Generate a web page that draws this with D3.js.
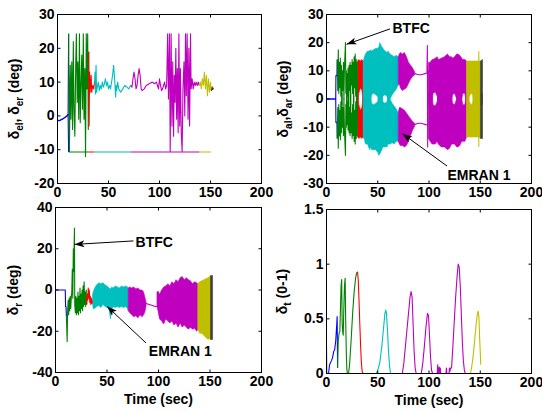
<!DOCTYPE html>
<html>
<head>
<meta charset="utf-8">
<script src="https://cdn.jsdelivr.net/npm/d3@7"></script>
<style>
html, body { margin: 0; padding: 0; background: #fff; }
svg { display: block; }
text { font-family: "Liberation Sans", Arial, Helvetica, sans-serif; font-weight: bold; }
</style>
</head>
<body>
<svg id="chart" width="542" height="412"></svg>
<script>
// ---- tick values -------------------------------------------------------
const timeTicks = [0, 50, 100, 150, 200];
const elevTicks = [-20, -10, 0, 10, 20, 30];
const ailTicks = [-30, -20, -10, 0, 10, 20, 30];
const rudTicks = [-40, -20, 0, 20, 40];
const thrTicks = [0, 0.5, 1, 1.5];

// ---- flight phases: start times (sec) and trace colours -----------------
const phaseColors = ["#0000ff", "#008000", "#ff0000", "#00bfbf", "#bf00bf", "#bfbf00", "#404040"];
const elevPhases = [0, 10.5, 30.5, 36.3, 71.5, 139, 150.5, 999];
const ailPhases = [0, 10.4, 30.3, 35.8, 70, 136.6, 150.2, 999];
const rudPhases = [0, 10.3, 30.3, 35.8, 70.6, 138.2, 150.5, 999];
const thrPhases = [0, 10.5, 30.3, 36, 72, 139, 150.6, 999];

// ---- elevator deflections [t, deg] -------------------------------------
const elevMain = [[0,-1.3],[1.5,-1.4],[3,-1.2],[5,-0.9],[7,-0.5],[9,-0.1],[10.4,0.5],[10.9,24.3],[11.7,-10.5],[12.5,15],[13.2,-1],[14,16],[14.8,-4],[15.5,22],[16.2,2],[17,-6],[17.8,14],[18.5,24.3],[19.3,4],[20,16],[20.8,-1],[21.5,24.3],[22.3,-2],[23,9],[23.8,18],[24.5,2],[25.3,24.3],[26,-1],[26.8,14],[27.5,-12],[28.2,24.3],[28.9,8],[29.6,24.3],[30.2,-4],
  [30.6,19],[31,-3],[31.5,13],[32,7],[33,12],[33.5,7],[34.5,9],[35.5,8],
  [36.3,10],[36.8,13],[37.2,6.5],[37.8,15],[38.3,7],[39,8.5],[40,10],[41,7.5],[42,9],[43,8],[44,10],[45,8.5],[46,9.5],[47,11],[48,9],[49,10],[50,8],[51,9],[52,8],[53,10],[54,12],[55,15],[56,11],[57,5.5],[57.5,9],[58,7.5],[59,10],[60,8],[62,7],[64,8],[66,9],[68,8.5],[70,8],[71.5,9],
  [73,8.5],[74,11],[75,13],[76,11],[77,8],[78,9],[79,12],[80,14],[81,12],[82,8],[83,7.5],[85,8],[87,9],[90,9.5],[93,10],[95,9.5],[97,10],[99,8],[100,11],[101,9],[102,7.5],[103,8],[104,9],[105,10],[106,8],[107,9],
  [108,24.3],[108.8,5],[109.8,24.3],[110.5,-10.5],[111.4,24.3],[112.2,-3],[113,16],[113.8,-6],[114.5,12],[115.3,4],[116,20],[116.8,-1],[117.5,14],[118.3,-5],[119,24.3],[119.8,-3],[120.5,14],[121.3,-5],[122.2,-10.5],[123,8],[124,16],[124.8,0],[125.5,24.3],[126.3,6],[127.1,24.3],[128,-1],[128.8,20],[129.5,-3],[130.4,24.3],[131,8],[132,11],[133,8],[134,10],[135,9],[136,10],[137,9],[138,10],
  [139,9],[140,10],[141,8],[142,11],[143,9],[144,13],[145,8],[146,12],[147,6],[148,11],[149,7],[150,10],
  [150.5,8],[151,7.5],[151.6,8.6],[152.2,7.8],[153,8.3]];
const elevSat = [[0,-1.3],[1.5,-1.4],[3,-1.2],[5,-0.9],[7,-0.5],[9,-0.1],[10.4,0.5],[10.9,-10.7],[30.5,-10.7],[36.3,-10.7],[71.5,-10.7],[139,-10.7],[150.5,-10.7]];

// ---- aileron deflections ----------------------------------------------
// lines [t, deg]
const ailLeftLine = [[0,0],[9,0],[9.2,8.3],[10.2,8.3],
  [10.5,14],[11,3],[11.5,17.5],[12,2],[12.5,13],[13,4],[13.5,14.5],[14,1],[14.5,12],[15,-2],[15.5,10],[16,3],[16.5,13],[17,0],[17.5,11],[18.5,20],[18.9,2],[19.3,10],[19.7,-3],[20.2,9],[20.6,1],[21,11],[21.5,-4],[22,12],[22.5,3],[23,13],[23.5,-2],[24,12],[24.5,5],[25,14],[25.5,2],[26,13],[26.5,-1],[27,15],[27.5,4],[28,16],[28.5,1],[29,14],[29.5,-3],[30,13],[30.25,2]];
const ailRightLine = [[0,0],[9,0],[9.2,-8.3],[10.2,-8.3],
  [10.5,-14],[11,-3],[11.5,-17.5],[12,-2],[12.5,-13],[13,-4],[13.5,-14.5],[14,-1],[14.5,-12],[15,2],[15.5,-10],[16,-3],[16.5,-13],[17,0],[17.5,-11],[18.5,-20],[18.9,-2],[19.3,-10],[19.7,3],[20.2,-9],[20.6,-1],[21,-11],[21.5,4],[22,-12],[22.5,-3],[23,-13],[23.5,2],[24,-12],[24.5,-5],[25,-14],[25.5,-2],[26,-13],[26.5,1],[27,-15],[27.5,-4],[28,-16],[28.5,-1],[29,-14],[29.5,3],[30,-13],[30.25,-2]];
const ailLeftThin = [[86,9.1],[88,8.8],[90,8.6],[92,8.6],[94,8.8],[96,9],[98,9.2],[98.4,19],[98.7,-17],[99.1,8],[99.5,10]];
const ailRightThin = [[86,-9.1],[88,-8.8],[90,-8.6],[92,-8.6],[94,-8.8],[96,-9],[98,-9.2],[99.5,-9]];
// oscillation envelopes [t, upper, lower]
const ailLeftBandA = [[30.3,13.5,-2],[31.5,14,2],[33,13.5,4],[34.5,14,3],[35.8,13.5,-1],[37,15,-3],[38,16,-4],[40,17,-4],[42,17,-3],[43,17.5,-1],[44,17,1.5],[46,17.5,2],[48,18,1.5],[50,18,1],[51,18.5,-2],[52,20,-3],[54,18.5,-2],[55,18,1],[57,17,1.5],[59,16.5,1],[60,17,-1],[62,16,0],[64,15.5,1.5],[66,15,2.5],[68,15.5,3.5],[70,15,5],[71,16,5.5],[72,16.5,4],[74,16,3],[76,16.5,3.5],[78,15,4],[80,13,5.5],[82,12,7],[84,11,8],[86,9.6,8.6]];
const ailRightBandA = [[30.3,2,-13.5],[31.5,-2,-14],[33,-4,-13.5],[34.5,-3,-14],[35.8,1,-13.5],[37,3,-14.5],[38,4,-16],[40,4,-16],[42,3,-18],[43,1,-17],[44,-1.5,-18],[46,-2,-18],[48,-1.5,-18],[50,-1,-19],[51,2,-20],[52,3,-19.5],[54,2,-18],[55,-1,-17],[57,-1.5,-17],[59,-1,-17],[60,1,-16],[62,0,-16],[64,-1.5,-15.5],[66,-2.5,-16],[68,-3.5,-15],[70,-5,-15],[71,-3,-16],[72,-3,-16.5],[74,-3.5,-16.5],[76,-4,-17],[78,-5,-16.5],[80,-6,-15],[82,-7,-13],[84,-8,-11],[86,-8.6,-9.6]];
const ailLeftBandB = [[99.5,13,-2],[101,13,-3],[103,14,-1],[104,14,2],[106,14.5,2.5],[108,15,1],[109,14,-3],[112,14.5,-4],[115,15,-3],[118,16,-2],[120,15,-3],[122,15,-1],[123,14.5,1.5],[125,15,2],[127,16,0],[128,16,-3],[130,15.5,-3],[132,14.5,0],[133,14,2],[135,14,2],[136.6,13.5,-2],[138,13.5,-2],[139.5,13.5,1],[141,13.5,2],[142.5,13.5,1.5],[143.5,13.5,-2],[146,13.5,-2],[148.4,13.5,-2],[148.6,17,-2],[148.8,13.5,-2],[150.2,13.5,-2],[152.2,14,-2]];
const ailRightBandB = [[99.5,2,-14],[101,3,-15],[103,1,-16],[104,-2,-16],[106,-2.5,-16],[108,-1,-15],[109,3,-16],[112,4,-17],[115,3,-17],[118,2,-18],[120,3,-17.5],[122,1,-16],[123,-1.5,-16],[125,-2,-16],[127,0,-17],[128,3,-17],[130,3,-16.5],[132,0,-15],[133,-2,-15],[135,-2,-15],[136.6,2,-13.5],[138,2,-13.5],[139.5,-1,-13.5],[141,-2,-13.5],[142.5,-1.5,-13.5],[143.5,2,-13.5],[146,2,-13.5],[148.4,2,-13.5],[148.6,2,-17],[148.8,2,-13.5],[150.2,2,-14],[152.2,2,-14]];

// ---- rudder deflection -------------------------------------------------
const rudLine = [[0,0],[9.5,0],[9.8,-8],[10.2,-8],[10.6,-13],[11.3,-25],[11.8,-10],[12.3,-5],[12.8,-12],[13.3,-4],[13.8,-10],[14.3,-3],[14.8,-9],[15.3,-4],[15.8,-1],[16.3,10],[16.8,-4],[17.3,20],[17.7,9],[18.1,22],[18.4,30],[18.7,-7],[19.3,-11],[19.8,-3],[20.3,-12],[20.8,-4],[21.3,-11],[21.8,-1],[22.3,-12],[22.8,-3],[23.3,-10],[23.8,1],[24.3,-11],[24.8,-2],[25.3,-9],[25.8,0],[26.3,-10],[26.8,2],[27.3,-8],[27.8,4],[28.3,-7],[28.8,-1],[29.3,-8],[29.8,0],
  [30.3,-7],[30.8,-2],[31.3,-5],[31.8,1],[32.3,-4],[32.8,0],[33.3,-6],[33.8,-3],[34.3,-7],[34.8,-4],[35.3,-6.5],[35.8,-5]];
const rudThin = [[88,-6.5],[91,-7],[94,-7.5],[97,-8],[98.5,-8]];
const rudBandA = [[35.8,-3,-6],[36.5,-1,-9],[38,1,-9],[40,2.5,-8],[42,3.5,-7.5],[44,3,-8.5],[46,3.5,-7],[48,2.5,-8],[50,2,-8.5],[52,1,-9],[53.3,0.5,-14],[54.5,1.5,-9.5],[56,1,-8],[58,2,-8.5],[60,1.5,-8],[62,1,-8.5],[64,2,-8],[66,1.5,-8.5],[68,2,-8],[70,1.5,-9],[70.6,1,-10],[72,1.5,-11],[74,1,-12],[76,1.5,-13],[78,0.5,-12.5],[80,1,-13.5],[82,0,-12],[84,0,-13],[85.5,-1,-12],[86.5,-3,-11],[87.5,-5,-9],[88,-6,-7]];
const rudBandB = [[98.5,-1,-8],[99.5,-0.5,-10],[101,-2,-14],[103,0,-15],[105,1.5,-16.5],[107,2,-14],[109,3,-15],[111,2,-16],[113,4,-15],[115,3,-17],[117,5,-16],[119,4,-18],[121,6,-16],[123,6.5,-18],[125,5,-17],[127,6,-18],[129,5,-19],[131,4.5,-18],[133,3,-19],[135,4,-18.5],[137,3.5,-20],[138.2,3,-19],[140,4,-21],[142,4.5,-21],[144,5,-22],[146,5.5,-23],[148,6,-24],[149.5,6.5,-23.5],[150.5,7,-24],[152.5,7,-24]];

// ---- throttle setting (0-1) --------------------------------------------
const thrLine = [[0,0.25],[0.2,0],[2,0],[3,0.08],[5,0.12],[6,0.15],[7,0.2],[8,0.22],[9,0.3],[10,0.45],[10.4,0.52],
  [10.8,0.05],[11.5,0.3],[12.3,0.37],[13,0.38],[13.5,0.55],[14.2,0.8],[14.8,0.86],[15.3,0.45],[15.8,0.38],[16.3,0.35],[16.8,0.55],[17.5,0.8],[18.2,0.87],[18.7,0.5],[19.3,0.2],[19.8,0.05],[20.3,0],[21.5,0],[22.5,0.08],[24,0.3],[25.5,0.55],[27,0.75],[28.5,0.88],[29.5,0.92],
  [30.3,0.93],[31,0.85],[31.8,0.65],[32.5,0.45],[33.3,0.25],[34,0.1],[34.8,0.02],[35.5,0],
  [36,0],[48.5,0],[50,0.03],[52,0.1],[54,0.25],[55.5,0.4],[57,0.55],[57.8,0.58],[58.5,0.55],[59.5,0.4],[60.5,0.2],[61.5,0.07],[62.5,0],[71,0],
  [72,0],[74,0],[75.5,0.1],[77,0.25],[78.5,0.4],[80,0.55],[81.5,0.7],[82.5,0.75],[83.5,0.7],[84.5,0.45],[85.5,0.2],[86.5,0.05],[87.5,0],[92.5,0],[94,0.1],[95.5,0.25],[97,0.42],[98.5,0.55],[99.5,0.53],[100.5,0.35],[101.5,0.15],[102.5,0.03],[103.5,0],[108,0],[108.5,0.08],[109,0],[110,0.06],[110.5,0],[111,0.05],[111.5,0],[116.5,0],[117,0.05],[117.5,0],[119.5,0],[120,0.05],[120.5,0.02],[121,0.05],[122,0.05],[123,0.2],[124.5,0.45],[126,0.7],[127.5,0.9],[128.5,1.0],[129.5,0.97],[130.5,0.8],[131.5,0.55],[132.5,0.3],[133.5,0.12],[134.5,0.03],[135.5,0],
  [139,0],[140.5,0],[141.5,0.05],[143,0.15],[144.5,0.3],[146,0.45],[147.3,0.55],[148,0.57],[148.7,0.52],[149.3,0.35],[150,0.2],[150.5,0.08]];

// ---- axis titles and callouts --------------------------------------------
const elevTitle = [["δ"], ["el", true], [", δ"], ["er", true], [" (deg)"]];
const ailTitle = [["δ"], ["al", true], [",δ"], ["ar", true], [" (deg)"]];
const rudTitle = [["δ"], ["r", true], [" (deg)"]];
const thrTitle = [["δ"], ["t", true], [" (0-1)"]];
const timeTitle = "Time (sec)";
// callout: label, tip [t, value], tail [t, value], text anchor [t, value]
const ailCallouts = [
  { label: "BTFC", tip: [19.5, 19.4], tail: [62, 24.9], at: [64.4, 23.4] },
  { label: "EMRAN 1", tip: [74.1, -12.3], tail: [117.6, -23.8], at: [118, -28.9] }
];
const rudCallouts = [
  { label: "BTFC", tip: [18.4, 22.1], tail: [75.7, 23.8], at: [77.7, 20.8] },
  { label: "EMRAN 1", tip: [50.2, -8], tail: [87.9, -25.7], at: [90.6, -32.2] }
];

// ---- drawing -------------------------------------------------------------
const svg = d3.select("#chart");
svg.append("rect").attr("width", 542).attr("height", 412).attr("fill", "#fff");

const defs = svg.append("defs");
defs.append("marker")
  .attr("id", "head").attr("markerUnits", "userSpaceOnUse")
  .attr("markerWidth", 11).attr("markerHeight", 8)
  .attr("refX", 10).attr("refY", 3.5).attr("orient", "auto")
  .append("path").attr("d", "M0,0 L10,3.5 L0,7 L2.5,3.5 Z").attr("fill", "#000");

// Cut a time series into pieces, one per flight phase, each joined to the next.
function byPhase(series, phases) {
  const pieces = [];
  for (let k = 0; k < phaseColors.length; k++) {
    const a = phases[k], b = phases[k + 1];
    let first = -1, last = -1;
    series.forEach((p, i) => { if (p[0] >= a && p[0] < b) { if (first < 0) first = i; last = i; } });
    if (first < 0) continue;
    const pts = series.slice(first, Math.min(last + 2, series.length));
    if (pts.length > 1) pieces.push({ color: phaseColors[k], pts });
  }
  return pieces;
}

function drawPanel(cfg) {
  const x = d3.scaleLinear().domain([0, 200]).range(cfg.xr);
  const y = d3.scaleLinear().domain(cfg.yd).range(cfg.yr);
  const g = svg.append("g");

  const clipId = "clip-" + cfg.name;
  defs.append("clipPath").attr("id", clipId).append("rect")
    .attr("x", cfg.xr[0]).attr("y", cfg.yr[1])
    .attr("width", cfg.xr[1] - cfg.xr[0]).attr("height", cfg.yr[0] - cfg.yr[1]);
  const plot = g.append("g").attr("clip-path", `url(#${clipId})`);

  const area = d3.area().x(d => x(d[0])).y0(d => y(d[2])).y1(d => y(d[1]));
  const line = d3.line().x(d => x(d[0])).y(d => y(d[1]));

  (cfg.bands || []).forEach(s => byPhase(s, cfg.phases).forEach(p => {
    plot.append("path").attr("d", area(p.pts))
      .attr("fill", p.color).attr("stroke", p.color).attr("stroke-width", 0.6);
  }));
  (cfg.lines || []).forEach(s => byPhase(s, cfg.phases).forEach(p => {
    plot.append("path").attr("d", line(p.pts))
      .attr("fill", "none").attr("stroke", p.color).attr("stroke-width", 1.1)
      .attr("stroke-linejoin", "round");
  }));

  // box
  g.append("rect")
    .attr("x", cfg.xr[0]).attr("y", cfg.yr[1])
    .attr("width", cfg.xr[1] - cfg.xr[0]).attr("height", cfg.yr[0] - cfg.yr[1])
    .attr("fill", "none").attr("stroke", "#000").attr("stroke-width", 1);

  const tk = 3;
  const fmt = d => String(d);
  const styleAxis = sel => {
    sel.select(".domain").remove();
    sel.attr("font-size", 14).attr("font-family", null);
    sel.selectAll(".tick line").attr("stroke", "#000");
    sel.selectAll(".tick text").attr("fill", "#000");
  };
  g.append("g").attr("transform", `translate(0,${cfg.yr[0]})`)
    .call(d3.axisBottom(x).tickValues(timeTicks).tickFormat(fmt).tickSizeInner(-tk).tickSizeOuter(0).tickPadding(4).offset(0))
    .call(styleAxis);
  g.append("g").attr("transform", `translate(0,${cfg.yr[1]})`)
    .call(d3.axisTop(x).tickValues(timeTicks).tickFormat("").tickSizeInner(-tk).tickSizeOuter(0).offset(0))
    .call(styleAxis);
  g.append("g").attr("transform", `translate(${cfg.xr[0]},0)`)
    .call(d3.axisLeft(y).tickValues(cfg.ticks).tickFormat(fmt).tickSizeInner(-tk).tickSizeOuter(0).tickPadding(3).offset(0))
    .call(styleAxis);
  g.append("g").attr("transform", `translate(${cfg.xr[1]},0)`)
    .call(d3.axisRight(y).tickValues(cfg.ticks).tickFormat("").tickSizeInner(-tk).tickSizeOuter(0).offset(0))
    .call(styleAxis);

  // y title, rotated, with subscripts
  const cy = (cfg.yr[0] + cfg.yr[1]) / 2;
  const t = g.append("text").attr("text-anchor", "middle").attr("font-size", 14)
    .attr("transform", `translate(${cfg.titleX},${cy}) rotate(-90)`);
  let shifted = false;
  cfg.title.forEach(([s, sub]) => {
    const span = t.append("tspan").text(s);
    if (sub && !shifted) { span.attr("dy", 4).attr("font-size", 10); shifted = true; }
    else if (sub) { span.attr("font-size", 10); }
    else if (shifted) { span.attr("dy", -4); shifted = false; }
  });

  if (cfg.xTitle) {
    g.append("text").attr("text-anchor", "middle").attr("font-size", 14)
      .attr("x", (cfg.xr[0] + cfg.xr[1]) / 2).attr("y", cfg.yr[0] + 31)
      .text(cfg.xTitle);
  }

  (cfg.callouts || []).forEach(c => {
    g.append("line")
      .attr("x1", x(c.tail[0])).attr("y1", y(c.tail[1]))
      .attr("x2", x(c.tip[0])).attr("y2", y(c.tip[1]))
      .attr("stroke", "#000").attr("stroke-width", 1)
      .attr("marker-end", "url(#head)");
    g.append("text").attr("font-size", 14)
      .attr("x", x(c.at[0])).attr("y", y(c.at[1])).text(c.label);
  });
}

drawPanel({ name: "elev", xr: [57.5, 261.5], yr: [183.5, 14.5], yd: [-20, 30], ticks: elevTicks,
  phases: elevPhases, lines: [elevSat, elevMain], title: elevTitle, titleX: 19 });
drawPanel({ name: "ail", xr: [326.5, 531.5], yr: [183.5, 14.5], yd: [-30, 30], ticks: ailTicks,
  phases: ailPhases, bands: [ailLeftBandA, ailRightBandA, ailLeftBandB, ailRightBandB],
  lines: [ailLeftLine, ailRightLine, ailLeftThin, ailRightThin],
  title: ailTitle, titleX: 288, callouts: ailCallouts });
drawPanel({ name: "rud", xr: [55.5, 261.5], yr: [372.5, 207.5], yd: [-40, 40], ticks: rudTicks,
  phases: rudPhases, bands: [rudBandA, rudBandB], lines: [rudLine, rudThin],
  title: rudTitle, titleX: 18, xTitle: timeTitle, callouts: rudCallouts });
drawPanel({ name: "thr", xr: [326.5, 531.5], yr: [373.5, 209.5], yd: [0, 1.5], ticks: thrTicks,
  phases: thrPhases, lines: [thrLine], title: thrTitle, titleX: 287, xTitle: timeTitle });
</script>
</body>
</html>
